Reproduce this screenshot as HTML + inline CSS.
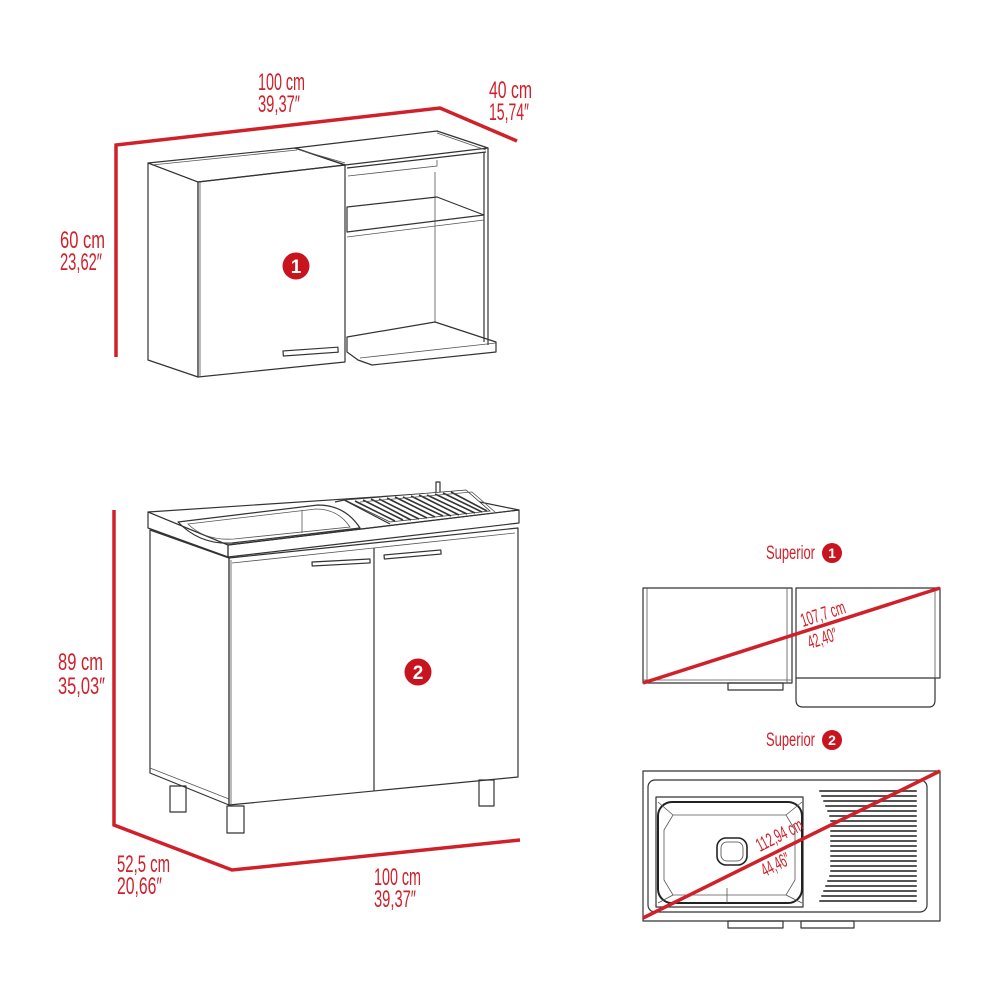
<!DOCTYPE html>
<html><head><meta charset="utf-8"><style>html,body{margin:0;padding:0;background:#fff}svg{display:block}</style></head>
<body>
<svg width="1000" height="1000" viewBox="0 0 1000 1000" xmlns="http://www.w3.org/2000/svg">
<defs><style>
.t{font-family:"Liberation Sans Narrow","Liberation Sans",sans-serif;fill:#d0202a;font-size:24px}
.s{font-family:"Liberation Sans Narrow","Liberation Sans",sans-serif;fill:#d0202a;font-size:19px}
.k{fill:none;stroke:#333;stroke-width:1.2;stroke-linejoin:round}
.kt{fill:none;stroke:#555;stroke-width:0.8}
.r{fill:none;stroke:#d0202a;stroke-width:3.5;stroke-linejoin:miter}
.b{fill:#c8141e}
.bn{font-family:"Liberation Sans",sans-serif;font-weight:bold;fill:#fff;text-anchor:middle}
</style></defs>

<polyline class="r" points="116,357 116,145 440,108 517,141"/>
<text class="t" x="258" y="90" textLength="47" lengthAdjust="spacingAndGlyphs">100 cm</text>
<text class="t" x="258" y="112" textLength="42" lengthAdjust="spacingAndGlyphs">39,37″</text>
<text class="t" x="489" y="98" textLength="43" lengthAdjust="spacingAndGlyphs">40 cm</text>
<text class="t" x="489" y="120" textLength="40" lengthAdjust="spacingAndGlyphs">15,74″</text>
<text class="t" x="60" y="248" textLength="45" lengthAdjust="spacingAndGlyphs">60 cm</text>
<text class="t" x="60" y="270" textLength="42" lengthAdjust="spacingAndGlyphs">23,62″</text>

<polygon class="k" points="148,163 295,148 345,165 198,182"/>
<line class="kt" x1="152" y1="165" x2="297" y2="150"/>
<polygon class="k" points="148,163 198,182 198,377 148,360"/>
<polygon class="k" points="198,182 345,165 345,362 198,377"/>
<line class="kt" x1="200" y1="182" x2="200" y2="377"/>
<rect x="283" y="351" width="55" height="5" class="k" transform="rotate(-4 283 351)"/>
<polygon class="k" points="295,148 437,131 488,148 345,165"/>
<line class="kt" x1="300" y1="150" x2="345" y2="163"/>
<line class="kt" x1="437" y1="133" x2="486" y2="150"/>
<line class="k" x1="488" y1="148" x2="488" y2="345"/>
<line class="k" x1="484" y1="152" x2="484" y2="342"/>
<polyline class="k" points="347,168 486,152"/>
<polyline class="kt" points="348,176 437,166 437,160"/>
<line class="kt" x1="435" y1="172" x2="435" y2="322"/>
<polygon class="k" points="347,207 437,197 484,215 347,232"/>
<line class="kt" x1="347" y1="237" x2="484" y2="220"/>
<polygon class="k" points="347,337 435,322 496,342 496,352 372,365 358,360 347,352"/>
<line class="kt" x1="360" y1="358" x2="496" y2="343"/>
<circle class="b" cx="296" cy="266" r="13.5"/>
<text class="bn" x="296" y="273" font-size="19">1</text>

<polyline class="r" points="114,510 114,825 232,870 520,840"/>
<text class="t" x="58" y="670" textLength="45" lengthAdjust="spacingAndGlyphs">89 cm</text>
<text class="t" x="58" y="694" textLength="47" lengthAdjust="spacingAndGlyphs">35,03″</text>
<text class="t" x="117" y="872" textLength="53" lengthAdjust="spacingAndGlyphs">52,5 cm</text>
<text class="t" x="117" y="894" textLength="45" lengthAdjust="spacingAndGlyphs">20,66″</text>
<text class="t" x="374" y="885" textLength="47" lengthAdjust="spacingAndGlyphs">100 cm</text>
<text class="t" x="374" y="907" textLength="42" lengthAdjust="spacingAndGlyphs">39,37″</text>

<polygon class="k" points="148,512 436,493 519,510 228,545"/>
<polyline class="k" points="436,493 436,482 440,482 440,493"/>
<polygon class="k" points="228,545 519,510 519,523 228,557"/>
<polygon class="k" points="148,512 228,545 228,557 148,528"/>
<path class="k" d="M178,522 L318,505 Q345,505 360,528 L232,543 Q200,545 178,522 Z"/>
<path class="kt" d="M188,524 L316,509 Q338,509 350,527 L234,539 Q205,541 188,524 Z"/>
<line class="kt" x1="302" y1="510" x2="302" y2="533"/>
<polygon points="345,500 466,490 490,511 390,522" fill="#fff" stroke="#333" stroke-width="0.8"/>
<g stroke="#333" stroke-width="1.6">
<line x1="355" y1="501" x2="395" y2="521"/><line x1="363" y1="500" x2="403" y2="520"/><line x1="371" y1="499" x2="411" y2="520"/><line x1="379" y1="499" x2="419" y2="519"/><line x1="387" y1="498" x2="427" y2="518"/><line x1="395" y1="497" x2="435" y2="517"/><line x1="403" y1="497" x2="443" y2="516"/><line x1="411" y1="496" x2="451" y2="516"/><line x1="419" y1="495" x2="459" y2="515"/><line x1="427" y1="495" x2="467" y2="514"/><line x1="435" y1="494" x2="475" y2="513"/><line x1="443" y1="493" x2="482" y2="512"/><line x1="451" y1="492" x2="487" y2="511"/>
</g>
<polyline class="kt" points="360,502 472,492 495,512"/>
<polyline class="k" points="335,502 344,500 390,524"/>
<polygon class="k" points="150,530 229,558 229,805 150,773"/>
<line class="kt" x1="150" y1="768" x2="229" y2="799"/>
<polygon class="k" points="229,558 518,528 518,777 229,805"/>
<line class="kt" x1="232" y1="563" x2="515" y2="533"/>
<line class="k" x1="374" y1="548" x2="374" y2="791"/>
<line class="kt" x1="231" y1="560" x2="231" y2="805"/>
<rect class="k" x="312" y="562" width="58" height="4" transform="rotate(-3 312 562)"/>
<rect class="k" x="384" y="555" width="57" height="4" transform="rotate(-5 384 555)"/>
<rect class="k" x="170" y="786" width="16" height="26"/>
<rect class="k" x="227" y="806" width="17" height="27"/>
<rect class="k" x="479" y="780" width="15" height="26"/>
<circle class="b" cx="418" cy="672" r="13.5"/>
<text class="bn" x="418" y="679" font-size="19">2</text>

<text class="s" x="766" y="559" textLength="49" lengthAdjust="spacingAndGlyphs">Superior</text>
<circle class="b" cx="832" cy="553" r="10"/>
<text class="bn" x="832" y="558" font-size="14">1</text>
<rect class="k" x="643" y="588" width="149" height="95"/>
<line class="kt" x1="647" y1="588" x2="647" y2="680"/>
<line class="kt" x1="787" y1="588" x2="787" y2="683"/>
<line class="kt" x1="643" y1="680" x2="792" y2="680"/>
<rect class="k" x="728" y="683" width="55" height="7"/>
<path class="k" d="M796,588 H940 V678 H796 Z"/>
<path class="k" d="M796,678 V700 Q796,707 803,707 H929 Q935,707 935,700 V678"/>
<polyline class="kt" points="935,588 935,678"/>
<line class="r" x1="643" y1="683" x2="940" y2="588" stroke-width="3.5"/>
<text class="s" x="0" y="0" transform="translate(803,627) rotate(-18)" textLength="46" lengthAdjust="spacingAndGlyphs">107,7 cm</text>
<text class="s" x="0" y="0" transform="translate(810,649) rotate(-18)" textLength="30" lengthAdjust="spacingAndGlyphs">42,40″</text>

<text class="s" x="766" y="746" textLength="49" lengthAdjust="spacingAndGlyphs">Superior</text>
<circle class="b" cx="832" cy="740" r="10"/>
<text class="bn" x="832" y="745" font-size="14">2</text>
<rect class="k" x="643" y="771" width="297" height="150"/>
<rect class="k" x="648" y="780" width="279" height="132" rx="7"/>
<rect class="k" x="656" y="797" width="147" height="110"/>
<rect x="658" y="802" width="144" height="101" rx="14" fill="none" stroke="#222" stroke-width="2"/>
<path class="kt" d="M673,815 H786 L795,830 V880 L786,895 H673 L664,880 V830 Z"/>
<line class="kt" x1="658" y1="802" x2="673" y2="815"/><line class="kt" x1="802" y1="802" x2="786" y2="815"/>
<line class="kt" x1="658" y1="903" x2="673" y2="895"/><line class="kt" x1="802" y1="903" x2="786" y2="895"/>
<line class="kt" x1="727" y1="888" x2="727" y2="903"/>
<rect x="717" y="838" width="30" height="27" rx="9" fill="none" stroke="#222" stroke-width="1.6"/>
<rect x="721" y="842" width="22" height="19" rx="6" fill="none" stroke="#444" stroke-width="0.8"/>
<g stroke="#555" stroke-width="2" stroke-linecap="round">
<line x1="820" y1="791" x2="916" y2="791"/><line x1="822" y1="796" x2="916" y2="796"/><line x1="824" y1="801" x2="916" y2="801"/><line x1="826" y1="806" x2="916" y2="806"/><line x1="828" y1="811" x2="916" y2="811"/><line x1="830" y1="816" x2="916" y2="816"/><line x1="831" y1="821" x2="916" y2="821"/><line x1="831" y1="826" x2="916" y2="826"/><line x1="831" y1="831" x2="916" y2="831"/><line x1="831" y1="836" x2="916" y2="836"/><line x1="831" y1="841" x2="916" y2="841"/><line x1="831" y1="846" x2="916" y2="846"/><line x1="831" y1="851" x2="916" y2="851"/><line x1="831" y1="856" x2="916" y2="856"/><line x1="831" y1="861" x2="916" y2="861"/><line x1="831" y1="866" x2="916" y2="866"/><line x1="831" y1="871" x2="916" y2="871"/><line x1="830" y1="876" x2="916" y2="876"/><line x1="828" y1="881" x2="916" y2="881"/><line x1="826" y1="886" x2="916" y2="886"/><line x1="824" y1="891" x2="916" y2="891"/><line x1="822" y1="896" x2="916" y2="896"/><line x1="820" y1="901" x2="916" y2="901"/>
</g>
<rect class="k" x="728" y="921" width="55" height="7"/>
<rect class="k" x="801" y="921" width="53" height="7"/>
<line class="r" x1="643" y1="918" x2="940" y2="771" stroke-width="3.5"/>
<text class="s" x="0" y="0" transform="translate(760,852) rotate(-27)" textLength="50" lengthAdjust="spacingAndGlyphs">112,94 cm</text>
<text class="s" x="0" y="0" transform="translate(765,877) rotate(-27)" textLength="30" lengthAdjust="spacingAndGlyphs">44,46″</text>
</svg>
</body></html>
